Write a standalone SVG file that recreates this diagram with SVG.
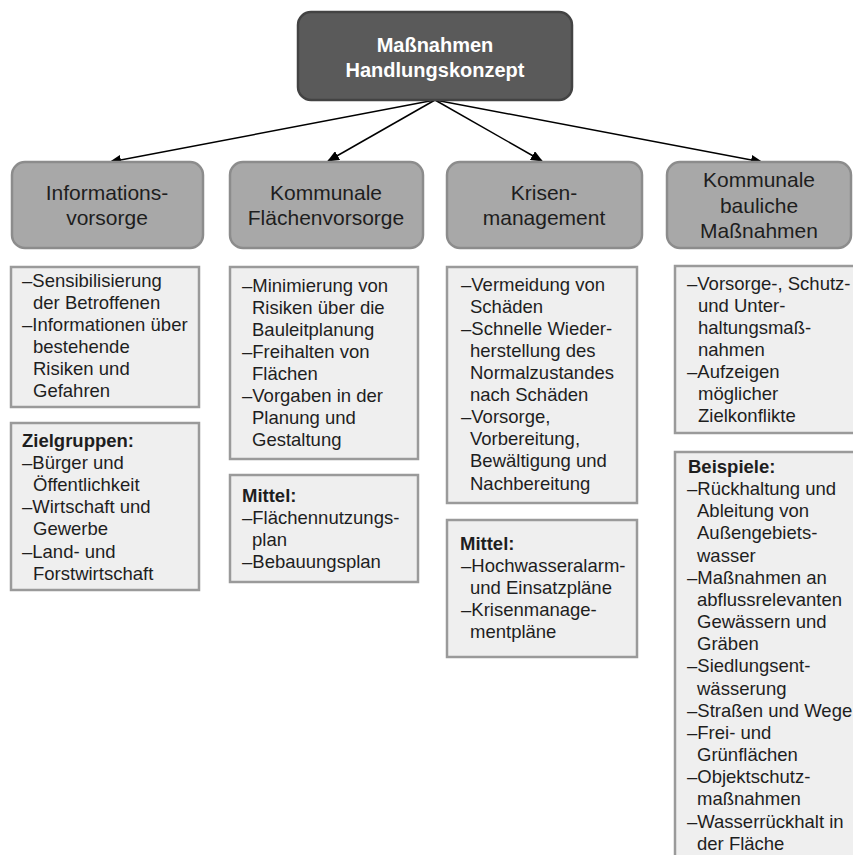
<svg xmlns="http://www.w3.org/2000/svg" width="853" height="855" viewBox="0 0 853 855">
<defs>
<marker id="ah" markerWidth="12" markerHeight="10" refX="11" refY="5" orient="auto" markerUnits="userSpaceOnUse">
<path d="M0,0 L12,5 L0,10 Z" fill="#000"/>
</marker>
<style>
.top{fill:#5a5a5a;stroke:#434343;stroke-width:2.5}
.cat{fill:#a8a8a8;stroke:#8c8c8c;stroke-width:2.5}
.box{fill:#efefef;stroke:#9a9a9a;stroke-width:2.5}
.tt{font-family:"Liberation Sans",Arial,sans-serif;font-weight:bold;font-size:20px;fill:#fff;text-anchor:middle}
.ct{font-family:"Liberation Sans",Arial,sans-serif;font-size:21px;fill:#1e1e1e;text-anchor:middle}
.bt{font-family:"Liberation Sans",Arial,sans-serif;font-size:18.5px;fill:#1e1e1e}
.b{font-weight:bold}
.con{stroke:#000;stroke-width:1.5;fill:none;marker-end:url(#ah)}
</style>
</defs>
<rect width="853" height="855" fill="#fff"/>
<g id="connectors">
<line class="con" x1="435" y1="100" x2="110" y2="162"/>
<line class="con" x1="435" y1="100" x2="328" y2="161"/>
<line class="con" x1="435" y1="100" x2="542" y2="161"/>
<line class="con" x1="435" y1="100" x2="762" y2="162"/>
</g>
<g id="top">
<rect class="top" x="298" y="12" width="274" height="88" rx="13"/>
<text class="tt" x="435" y="52">Maßnahmen</text>
<text class="tt" x="435" y="77">Handlungskonzept</text>
</g>
<g id="cat1">
<rect class="cat" x="12" y="162" width="191" height="86" rx="13"/>
<text class="ct" x="107" y="200">Informations-</text>
<text class="ct" x="107" y="225">vorsorge</text>
</g>
<g id="cat2">
<rect class="cat" x="230" y="162" width="193" height="86" rx="13"/>
<text class="ct" x="326" y="200">Kommunale</text>
<text class="ct" x="326" y="225">Flächenvorsorge</text>
</g>
<g id="cat3">
<rect class="cat" x="447" y="162" width="195" height="86" rx="13"/>
<text class="ct" x="544" y="200">Krisen-</text>
<text class="ct" x="544" y="225">management</text>
</g>
<g id="cat4">
<rect class="cat" x="667" y="162" width="184" height="86" rx="13"/>
<text class="ct" x="759" y="187">Kommunale</text>
<text class="ct" x="759" y="213">bauliche</text>
<text class="ct" x="759" y="238">Maßnahmen</text>
</g>
<g id="box1">
<rect class="box" x="11" y="267" width="188" height="140"/>
<text class="bt">
<tspan x="22" y="287">–Sensibilisierung</tspan>
<tspan x="33" y="309">der Betroffenen</tspan>
<tspan x="22" y="331">–Informationen über</tspan>
<tspan x="33" y="353">bestehende</tspan>
<tspan x="33" y="375">Risiken und</tspan>
<tspan x="33" y="397">Gefahren</tspan>
</text>
</g>
<g id="box2">
<rect class="box" x="11" y="423" width="188" height="167"/>
<text class="bt">
<tspan class="b" x="22" y="447">Zielgruppen:</tspan>
<tspan x="22" y="469">–Bürger und</tspan>
<tspan x="33" y="491">Öffentlichkeit</tspan>
<tspan x="22" y="513">–Wirtschaft und</tspan>
<tspan x="33" y="535">Gewerbe</tspan>
<tspan x="22" y="558">–Land- und</tspan>
<tspan x="33" y="580">Forstwirtschaft</tspan>
</text>
</g>
<g id="box3">
<rect class="box" x="230" y="267" width="188" height="192"/>
<text class="bt">
<tspan x="242" y="292">–Minimierung von</tspan>
<tspan x="252" y="314">Risiken über die</tspan>
<tspan x="252" y="336">Bauleitplanung</tspan>
<tspan x="242" y="358">–Freihalten von</tspan>
<tspan x="252" y="380">Flächen</tspan>
<tspan x="242" y="402">–Vorgaben in der</tspan>
<tspan x="252" y="424">Planung und</tspan>
<tspan x="252" y="446">Gestaltung</tspan>
</text>
</g>
<g id="box4">
<rect class="box" x="230" y="475" width="188" height="107"/>
<text class="bt">
<tspan class="b" x="242" y="502">Mittel:</tspan>
<tspan x="242" y="524">–Flächennutzungs-</tspan>
<tspan x="252" y="546">plan</tspan>
<tspan x="242" y="568">–Bebauungsplan</tspan>
</text>
</g>
<g id="box5">
<rect class="box" x="447" y="267" width="190" height="236"/>
<text class="bt">
<tspan x="461" y="291">–Vermeidung von</tspan>
<tspan x="470" y="313">Schäden</tspan>
<tspan x="461" y="335">–Schnelle Wieder-</tspan>
<tspan x="470" y="357">herstellung des</tspan>
<tspan x="470" y="379">Normalzustandes</tspan>
<tspan x="470" y="401">nach Schäden</tspan>
<tspan x="461" y="423">–Vorsorge,</tspan>
<tspan x="470" y="445">Vorbereitung,</tspan>
<tspan x="470" y="467">Bewältigung und</tspan>
<tspan x="470" y="490">Nachbereitung</tspan>
</text>
</g>
<g id="box6">
<rect class="box" x="447" y="520" width="190" height="137"/>
<text class="bt">
<tspan class="b" x="460" y="550">Mittel:</tspan>
<tspan x="461" y="572">–Hochwasseralarm-</tspan>
<tspan x="470" y="594">und Einsatzpläne</tspan>
<tspan x="461" y="616">–Krisenmanage-</tspan>
<tspan x="470" y="638">mentpläne</tspan>
</text>
</g>
<g id="box7">
<rect class="box" x="675" y="266" width="182" height="167"/>
<text class="bt">
<tspan x="687" y="290">–Vorsorge-, Schutz-</tspan>
<tspan x="698" y="312">und Unter-</tspan>
<tspan x="698" y="334">haltungsmaß-</tspan>
<tspan x="698" y="356">nahmen</tspan>
<tspan x="687" y="378">–Aufzeigen</tspan>
<tspan x="698" y="400">möglicher</tspan>
<tspan x="698" y="422">Zielkonflikte</tspan>
</text>
</g>
<g id="box8">
<rect class="box" x="675" y="452" width="182" height="410"/>
<text class="bt">
<tspan class="b" x="688" y="473">Beispiele:</tspan>
<tspan x="687" y="495">–Rückhaltung und</tspan>
<tspan x="697" y="517">Ableitung von</tspan>
<tspan x="697" y="539">Außengebiets-</tspan>
<tspan x="697" y="562">wasser</tspan>
<tspan x="687" y="584">–Maßnahmen an</tspan>
<tspan x="697" y="606">abflussrelevanten</tspan>
<tspan x="697" y="628">Gewässern und</tspan>
<tspan x="697" y="650">Gräben</tspan>
<tspan x="687" y="672">–Siedlungsent-</tspan>
<tspan x="697" y="695">wässerung</tspan>
<tspan x="687" y="717">–Straßen und Wege</tspan>
<tspan x="687" y="739">–Frei- und</tspan>
<tspan x="697" y="761">Grünflächen</tspan>
<tspan x="687" y="783">–Objektschutz-</tspan>
<tspan x="697" y="805">maßnahmen</tspan>
<tspan x="687" y="828">–Wasserrückhalt in</tspan>
<tspan x="697" y="850">der Fläche</tspan>
</text>
</g>
</svg>
